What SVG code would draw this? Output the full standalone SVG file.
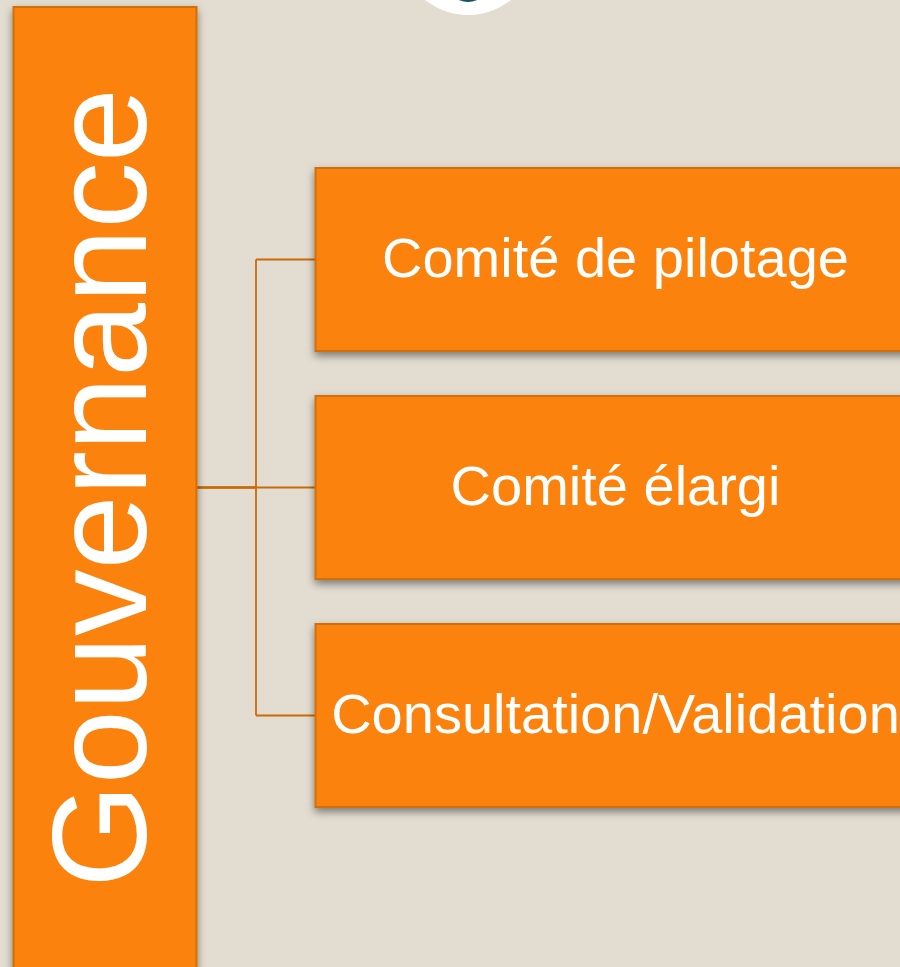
<svg xmlns="http://www.w3.org/2000/svg" width="900" height="967" viewBox="0 0 900 967">
<style>
.box{fill:#fb8207;stroke:#cf6f08;stroke-width:2;filter:url(#sh)}
.lbl{font-family:"Liberation Sans",Arial,sans-serif;fill:#fff;text-anchor:middle}
.t{font-size:56px}
.c{fill:none;stroke:#c96a08;stroke-width:1.800}
</style>
<defs>
<filter id="sh" x="-20%" y="-20%" width="140%" height="140%"><feDropShadow dx="0" dy="4" stdDeviation="4" flood-color="#000" flood-opacity="0.45"/></filter>
</defs>
<rect width="900" height="967" fill="#e3ddd1"/>
<g id="logo"><circle cx="468" cy="-54" r="69" fill="#fff"/><circle cx="468" cy="-20" r="22" fill="#134f6e"/></g>
<g id="connectors">
<path class="c" d="M197 487.500H315M256 259.500V715.500M256 259.500H315M256 715.500H315"/>
<path d="M197 487.500H256" fill="none" stroke="#c96a08" stroke-width="2.500"/>
</g>
<g id="governance"><rect class="box" x="13.500" y="7" width="183" height="975"/>
<text class="lbl" transform="translate(146 488) rotate(-90)" font-size="133.200">Gouvernance</text></g>
<g id="comite-pilotage"><rect class="box" x="315.500" y="168" width="600" height="183"/>
<text class="lbl t" x="615.500" y="277">Comité de pilotage</text></g>
<g id="comite-elargi"><rect class="box" x="315.500" y="396" width="600" height="183"/>
<text class="lbl t" x="615.500" y="505">Comité élargi</text></g>
<g id="consultation"><rect class="box" x="315.500" y="624" width="600" height="183"/>
<text class="lbl t" x="615.500" y="733">Consultation/Validation</text></g>
</svg>
